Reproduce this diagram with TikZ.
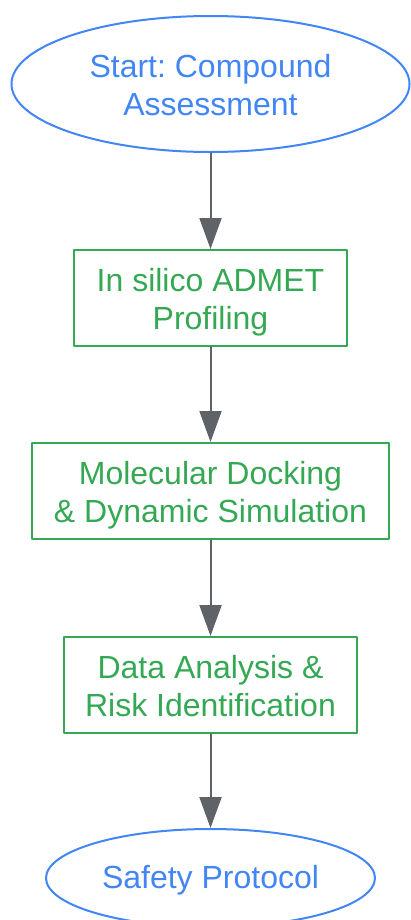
\documentclass[tikz,border=0pt]{standalone}
\usepackage{fontspec}
\setmainfont{Liberation Sans}
\usetikzlibrary{arrows.meta}
\usetikzlibrary{shapes.geometric}
\definecolor{termblue}{HTML}{4285F4}
\definecolor{stepgreen}{HTML}{34A853}
\definecolor{flowgray}{HTML}{5F6368}
\frenchspacing

\begin{document}
\begin{tikzpicture}[line cap=round,line join=round,>={Triangle[length=31bp,width=22bp]},x=1bp,y=-1bp,
  font=\fontsize{32bp}{38bp}\selectfont,
  terminal/.style={ellipse,draw=termblue,text=termblue,line width=2bp,inner sep=0pt,align=center,text depth=6bp},
  stepbox/.style={rectangle,draw=stepgreen,text=stepgreen,line width=2bp,minimum height=96bp,inner sep=0pt,align=center,text height=68bp,text depth=6bp},
  flow/.style={->,line width=2bp,draw=flowgray,fill=flowgray}]
\useasboundingbox (0,0) rectangle (410,920);
\node [terminal,minimum width=398bp,minimum height=136bp,text height=68bp] (start) at (210.5,84) {Start: Compound\\Assessment};
\node [stepbox,minimum width=272bp] (admet) at (210.5,298) {In silico ADMET\\Profiling};
\node [stepbox,minimum width=357bp] (docking) at (210.5,491) {Molecular Docking\\\& Dynamic Simulation};
\node [stepbox,minimum width=293bp] (analysis) at (210.5,685) {Data Analysis \&\\Risk Identification};
\node [terminal,minimum width=329bp,minimum height=98bp,text height=26bp] (protocol) at (210.5,878) {Safety Protocol};
% connectors
\draw [flow] (start) -- (admet);
\draw [flow] (admet) -- (docking);
\draw [flow] (docking) -- (analysis);
\draw [flow] (analysis) -- (protocol);
\end{tikzpicture}
\end{document}
